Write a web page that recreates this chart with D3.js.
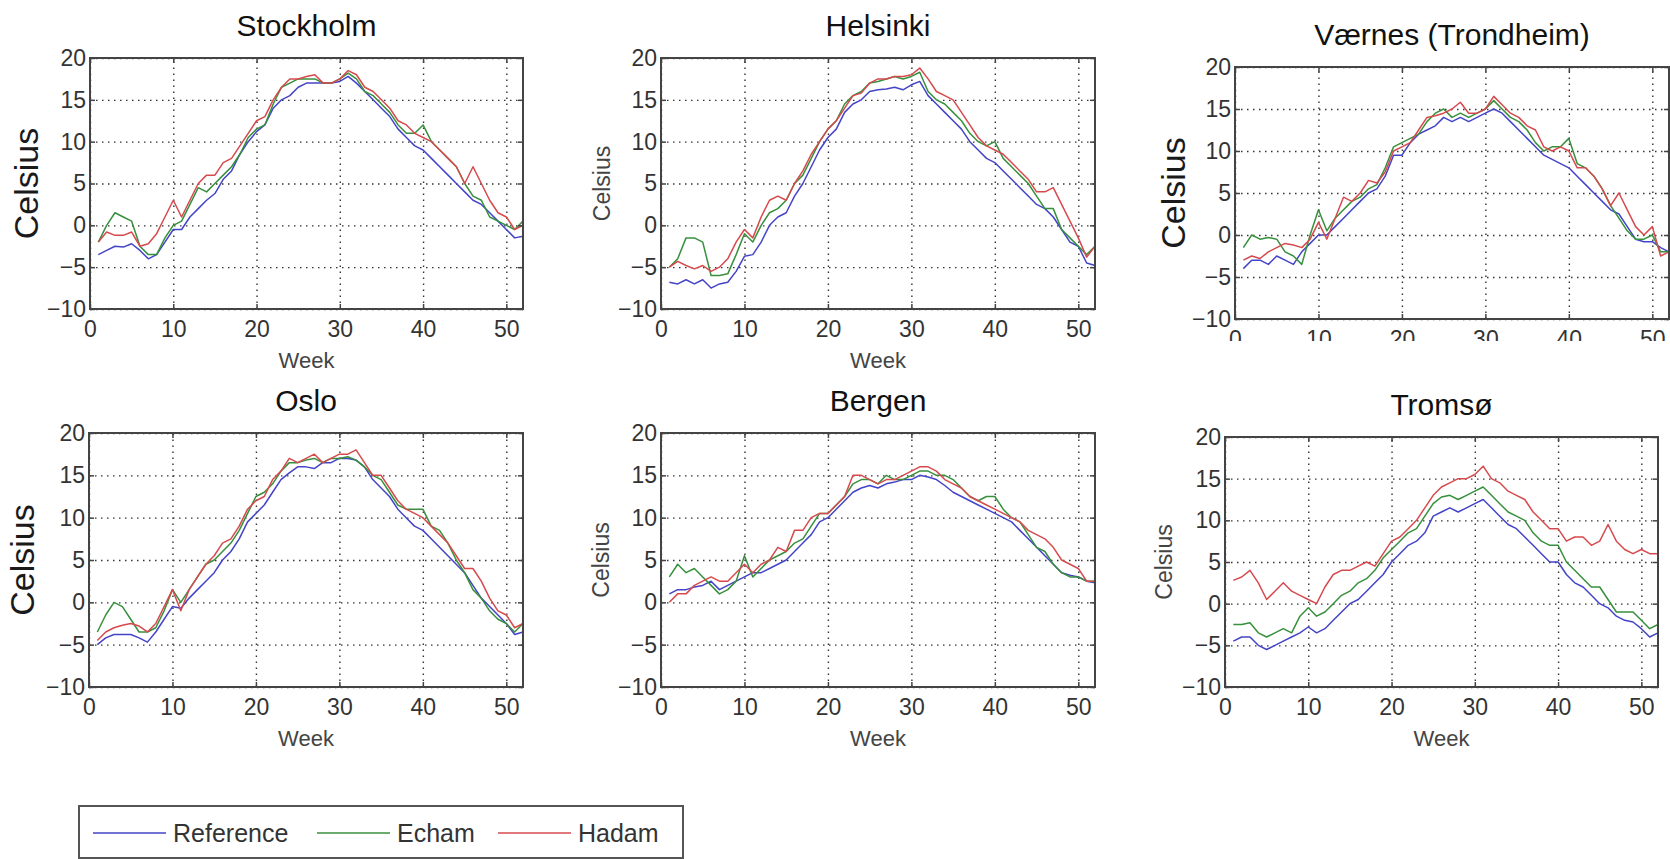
<!DOCTYPE html>
<html>
<head>
<meta charset="utf-8">
<script src="https://cdn.jsdelivr.net/npm/d3@7"></script>
<style>
  body { margin: 0; background: #fff; }
  svg { display: block; }
</style>
</head>
<body>
<div class="viz"></div>
<script>

	// weeks and tick values
	var weeks = d3.range(1, 53);
	var xTicks = [0, 10, 20, 30, 40, 50];
	var yTicks = [-10, -5, 0, 5, 10, 15, 20];
	var seriesNames = ['Reference', 'Echam', 'Hadam'];

	// Stockholm
	var stockholmRef = [-3.5,-3,-2.5,-2.6,-2.2,-3,-4,-3.5,-2,-0.5,-0.5,1,2,3,3.8,5.5,6.5,8.5,10,11.2,12,14,15,15.5,16.5,17,17,17,17,17.2,17.8,17,16,15,14,13,11.5,10.5,9.5,9,8,7,6,5,4,3,2.5,1.5,0.5,-0.5,-1.5,-1.3];
	var stockholmEcham = [-2,0,1.5,1,0.5,-2.5,-3.5,-3.5,-1.5,0,0.5,2.5,4.5,4,5,6,7,8.5,10.5,11.5,12,14.5,16.5,17,17.5,17.5,17.5,17,17,17.5,18.2,17.5,16,15.5,14.5,13.5,12,11,11,12,10,9,8,7,5,3.5,3,1,0.5,0,-0.5,0.5];
	var stockholmHadam = [-2,-0.8,-1.2,-1.2,-0.8,-2.5,-2.2,-1,1,3,1,3,5,6,6,7.5,8,9.5,11,12.5,13,15,16.5,17.5,17.5,17.8,18,17,17,17.5,18.5,18,16.5,16,15,14,12.5,12,11,10.5,10,9,8,7,5,7,5,3,1.5,1,-0.5,0];

	// Helsinki
	var helsinkiRef = [-6.8,-7,-6.5,-7,-6.5,-7.5,-7,-6.8,-5.5,-3.7,-3.5,-2,0,1,1.5,3.5,5,7,9,10.5,11.5,13.5,14.5,15,16,16.2,16.3,16.5,16.2,16.8,17.2,15.5,14.5,13.5,12.5,11.5,10,9,8,7.5,6.5,5.5,4.5,3.5,2.5,2,1,-0.5,-2,-2.5,-4.5,-4.8];
	var helsinkiEcham = [-5,-4,-1.5,-1.5,-2,-6,-6,-5.8,-3.5,-1,-2,0,1.5,2,3,5,6,8,10,11.5,12.5,14.5,15.5,16,17,17.2,17.5,17.8,17.5,17.8,18.3,16,15,14.5,13.5,12.5,11,10,9.5,10,8,7,6,5,3.5,2,2,-0.5,-1.5,-2.5,-3.5,-2.5];
	var helsinkiHadam = [-5,-4.3,-4.8,-5.2,-4.8,-5.5,-5,-4,-2,-0.5,-1.5,1,3,3.5,3,5,6.5,8.5,10,11.5,12.5,14,15.5,15.8,17,17.5,17.5,17.8,17.8,18,18.8,17.5,16,15.5,15,13.5,12,10.5,9.5,9,8.5,7.5,6.5,5.5,4,4,4.5,2.5,0.5,-1.5,-3.8,-2.5];

	// Vaernes (Trondheim)
	var vaernesRef = [-4,-3,-3,-3.5,-2.5,-3,-3.5,-2,-1,0,0,1,2,3,4,5,5.5,7,9.5,9.5,11,12,12.5,13,14,13.5,14,13.5,14,14.5,15,14.5,13.5,12.5,11.5,10.5,9.5,9,8.5,8,7,6,5,4,3,2.5,1,-0.5,-0.8,-0.8,-1.5,-2];
	var vaernesEcham = [-1.5,0,-0.5,-0.3,-0.5,-2,-2.5,-3.5,0,3,0.5,2,3,4,4.5,5.5,6,8,10.5,11,11.5,12,13.5,14.5,15,14,14.5,14,14.5,15,16,15,14,13.5,12.5,11,10,10.5,10.5,11.5,8.5,8,7,5.5,3.5,2,0.5,-0.5,-0.5,0,-2,-2];
	var vaernesHadam = [-3,-2.5,-2.8,-2,-1.5,-1,-1.2,-1.5,-0.5,1.5,-0.5,2,4.5,4,5,6.5,6.2,7.5,10,10.5,11,12.5,14,14.2,14.5,15,15.8,14.5,14.5,15,16.5,15.5,14.5,14,13,12.5,10.5,10,10.5,10,8,8,7,5.5,3.5,5,3,1,0,1,-2.5,-2];

	// Oslo
	var osloRef = [-5,-4.2,-3.8,-3.8,-3.8,-4.2,-4.7,-3.5,-2,-0.5,-0.7,0.5,1.5,2.5,3.5,5,6,7.5,9.5,10.5,11.5,13,14.5,15.3,16,16,15.8,16.5,16.5,17,17,16.8,16,14.5,13.5,12.5,11,10,9,8.5,7.5,6.5,5.5,4.5,3.5,2,0.5,-0.5,-1.5,-2.5,-3.8,-3.5];
	var osloEcham = [-3.5,-1.5,0,-0.5,-2,-3.5,-3.5,-3,-1,1.5,0,1.5,3,4.5,5,6,7,8.5,10.5,12.5,13,14,15.5,16.5,16.5,16.8,17,16.5,17,17,17.2,16.8,16,15,14.5,13,11.5,11,11,11,9,8.5,7,5,3.5,1.5,0.5,-1,-2,-2.5,-3.5,-2.5];
	var osloHadam = [-4.5,-3.5,-3,-2.7,-2.5,-2.8,-3.5,-2.5,-0.5,1.5,-1,1.5,3,4.5,5.5,7,7.5,9,11,12,12.5,14.5,15.5,17,16.5,17,17.5,16.5,17,17.5,17.5,18,16.5,15,15,13.5,12,11,10.5,10,9,8,7,5.5,4,4,2.5,0.5,-1,-1.5,-3,-2.5];

	// Bergen
	var bergenRef = [1,1.5,1.5,1.8,2,2.5,1.5,2,2.5,3,3.5,3.5,4,4.5,5,6,7,8,9.5,10,11,12,13,13.5,13.8,13.5,14,14.2,14.5,14.5,15,14.8,14.5,13.8,13,12.5,12,11.5,11,10.5,10,9.5,8.5,7.5,6.5,5.5,4.5,3.5,3.2,3,2.5,2.3];
	var bergenEcham = [3,4.5,3.5,4,3,2,1,1.5,2.5,5.5,3,4,5,5.5,6,7,7.5,9,10.5,10.5,11.5,12.5,14,14.5,14.5,14,15,14.5,14.5,15,15.5,15.5,15,15,14.5,13.5,12.5,12,12.5,12.5,11,10,9.5,8,6.5,6,4.5,3.5,3,3,2.5,2.5];
	var bergenHadam = [0,1,1,2,2.5,3,2.5,2.5,3.5,4.5,3.5,4.5,5,6.5,6,8.5,8.5,10,10.5,10.5,11.5,12.5,15,15,14.5,14,14.5,14.5,15,15.5,16,16,15.5,14.5,14,13.5,12.5,12,11.5,11,10.5,10,9.5,8.5,8,7.5,6.5,5,4.5,4,2.5,2.5];

	// Tromso
	var tromsoRef = [-4.5,-4,-4,-5,-5.5,-5,-4.5,-4,-3.5,-2.8,-3.5,-3,-2,-1,0,0.5,1.5,2.5,3.5,5,6,7,7.5,8.5,10.5,11,11.5,11,11.5,12,12.5,11.5,10.5,9.5,9,8,7,6,5,5,3.5,2.5,2,1,0,-0.5,-1.5,-2,-2.2,-3,-4,-3.5];
	var tromsoEcham = [-2.5,-2.5,-2.3,-3.5,-4,-3.5,-3,-3.5,-1.5,-0.5,-1.5,-1,0,1,1.5,2.5,3,4,5.5,6.5,7.5,8.5,9,10.5,12,12.8,13,12.5,13,13.5,14,13,12,11,10.5,10,8.5,7.5,7,7,5,4,3,2,2,0.5,-1,-1,-1,-2,-3,-2.5];
	var tromsoHadam = [2.8,3.2,4,2.5,0.5,1.5,2.5,1.5,1,0.5,0,2,3.5,4,4,4.5,5,4.5,6,7.5,8,9,10,11.5,13,14,14.5,15,15,15.5,16.5,15,14.5,13.5,13,12.5,11,10,9,9,7.5,8,8,7,7.5,9.5,7.5,6.5,6,6.5,6,6];

	var color = d3.scaleOrdinal()
		.domain(seriesNames)
		.range(['#4444c8', '#37903c', '#d64a4e']);

	// Panel layout (pixel boxes)
	var panels = [
		{title: 'Stockholm', series: [stockholmRef, stockholmEcham, stockholmHadam], x0: 90, x1: 523, y0: 58, y1: 309, bigLabel: true, labelX: 26, week: true},
		{title: 'Helsinki', series: [helsinkiRef, helsinkiEcham, helsinkiHadam], x0: 661, x1: 1095, y0: 58, y1: 309, bigLabel: false, labelX: 602, week: true},
		{title: 'V\u00e6rnes (Trondheim)', series: [vaernesRef, vaernesEcham, vaernesHadam], x0: 1235, x1: 1669, y0: 67, y1: 319, bigLabel: true, labelX: 1173, week: false, clipBottom: 341},
		{title: 'Oslo', series: [osloRef, osloEcham, osloHadam], x0: 89, x1: 523, y0: 433, y1: 687, bigLabel: true, labelX: 22, week: true},
		{title: 'Bergen', series: [bergenRef, bergenEcham, bergenHadam], x0: 661, x1: 1095, y0: 433, y1: 687, bigLabel: false, labelX: 601, week: true},
		{title: 'Troms\u00f8', series: [tromsoRef, tromsoEcham, tromsoHadam], x0: 1225, x1: 1658, y0: 437, y1: 687, bigLabel: false, labelX: 1164, week: true}
	];

	var svg = d3.select('.viz')
		.append('svg')
		.attr('width', 1670)
		.attr('height', 859)
		.style('background-color', '#fff');

	var defs = svg.append('defs');
	var font = '"Liberation Sans", Arial, sans-serif';

	panels.forEach(function(p, i){

		var xScale = d3.scaleLinear().domain([0, 52]).range([p.x0, p.x1]);
		var yScale = d3.scaleLinear().domain([-10, 20]).range([p.y1, p.y0]);

		var g = svg.append('g').attr('class', 'panel');

		// the Vaernes panel is cut off under its tick labels in the original
		if (p.clipBottom) {
			defs.append('clipPath').attr('id', 'clip' + i)
				.append('rect')
				.attr('x', 0).attr('y', 0)
				.attr('width', 1670).attr('height', p.clipBottom);
			g.attr('clip-path', 'url(#clip' + i + ')');
		}

		// dotted gridlines
		g.append('g')
			.attr('class', 'grid')
			.attr('transform', 'translate(0,' + p.y1 + ')')
			.call(d3.axisBottom(xScale).tickValues(xTicks).tickSize(-(p.y1 - p.y0)).tickFormat(''))
			.call(function(s){ s.select('.domain').remove(); });

		g.append('g')
			.attr('class', 'grid')
			.attr('transform', 'translate(' + p.x0 + ',0)')
			.call(d3.axisLeft(yScale).tickValues(yTicks).tickSize(-(p.x1 - p.x0)).tickFormat(''))
			.call(function(s){ s.select('.domain').remove(); });

		g.selectAll('.grid line')
			.attr('stroke', '#333')
			.attr('stroke-width', 1.4)
			.attr('stroke-dasharray', '1.5,4.5');

		// the three series
		var line = d3.line()
			.x(function(d, j){ return xScale(weeks[j]); })
			.y(function(d){ return yScale(d); });

		p.series.forEach(function(values, k){
			g.append('path')
				.datum(values)
				.attr('fill', 'none')
				.attr('stroke', color(seriesNames[k]))
				.attr('stroke-width', 1.5)
				.attr('stroke-linejoin', 'round')
				.attr('d', line);
		});

		// axes with inward ticks (matlab style)
		var xAxis = g.append('g')
			.attr('class', 'axis')
			.attr('transform', 'translate(0,' + p.y1 + ')')
			.call(d3.axisBottom(xScale).tickValues(xTicks).tickSize(-5).tickPadding(12));

		var yAxis = g.append('g')
			.attr('class', 'axis')
			.attr('transform', 'translate(' + p.x0 + ',0)')
			.call(d3.axisLeft(yScale).tickValues(yTicks).tickSize(-5).tickPadding(4));

		g.append('g')
			.attr('class', 'axis')
			.attr('transform', 'translate(0,' + p.y0 + ')')
			.call(d3.axisTop(xScale).tickValues(xTicks).tickSize(-5).tickFormat(''));

		g.append('g')
			.attr('class', 'axis')
			.attr('transform', 'translate(' + p.x1 + ',0)')
			.call(d3.axisRight(yScale).tickValues(yTicks).tickSize(-5).tickFormat(''));

		g.selectAll('.domain').remove();

		g.selectAll('.axis .tick line')
			.attr('stroke', '#444')
			.attr('stroke-width', 1.5);

		xAxis.selectAll('.tick text')
			.attr('font-size', 23)
			.attr('fill', '#333')
			.attr('font-family', font);

		yAxis.selectAll('.tick text')
			.attr('font-size', 23)
			.attr('fill', '#333')
			.attr('font-family', font);

		// box
		g.append('rect')
			.attr('x', p.x0)
			.attr('y', p.y0)
			.attr('width', p.x1 - p.x0)
			.attr('height', p.y1 - p.y0)
			.attr('fill', 'none')
			.attr('stroke', '#444')
			.attr('stroke-width', 2);

		// title
		svg.append('text')
			.attr('x', (p.x0 + p.x1) / 2)
			.attr('y', p.y0 - 22)
			.attr('text-anchor', 'middle')
			.attr('font-family', font)
			.attr('font-size', 30)
			.attr('fill', '#111')
			.text(p.title);

		// y label
		svg.append('text')
			.attr('transform', 'translate(' + (p.labelX + (p.bigLabel ? 12 : 8)) + ',' + ((p.y0 + p.y1) / 2) + ') rotate(-90)')
			.attr('text-anchor', 'middle')
			.attr('font-family', font)
			.attr('font-size', p.bigLabel ? 34 : 23)
			.attr('fill', p.bigLabel ? '#1a1a1a' : '#444')
			.text('Celsius');

		// x label
		if (p.week) {
			svg.append('text')
				.attr('x', (p.x0 + p.x1) / 2)
				.attr('y', p.y1 + 59)
				.attr('text-anchor', 'middle')
				.attr('font-family', font)
				.attr('font-size', 22)
				.attr('fill', '#444')
				.text('Week');
		}
	});

	// Legend
	var legend = svg.append('g').attr('class', 'legend');

	legend.append('rect')
		.attr('x', 79)
		.attr('y', 806)
		.attr('width', 604)
		.attr('height', 52)
		.attr('fill', '#fff')
		.attr('stroke', '#555')
		.attr('stroke-width', 2);

	var legendX = [93, 317, 498];

	seriesNames.forEach(function(name, k){
		legend.append('line')
			.attr('x1', legendX[k])
			.attr('x2', legendX[k] + 73)
			.attr('y1', 833)
			.attr('y2', 833)
			.attr('stroke', color(name))
			.attr('stroke-width', 1.6);

		legend.append('text')
			.attr('x', legendX[k] + 80)
			.attr('y', 842)
			.attr('font-family', font)
			.attr('font-size', 25)
			.attr('fill', '#333')
			.text(name);
	});

</script>
</body>
</html>
